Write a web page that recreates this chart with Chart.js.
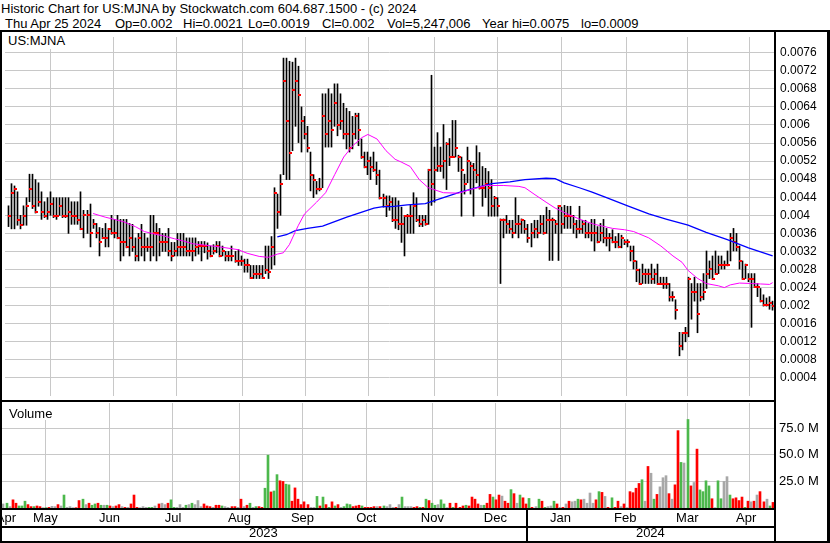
<!DOCTYPE html>
<html><head><meta charset="utf-8">
<script src="https://cdn.jsdelivr.net/npm/chart.js@4.4.1/dist/chart.umd.min.js"></script>
<style>
html,body{margin:0;padding:0;background:#fff;}
body{width:830px;height:543px;position:relative;overflow:hidden;font-family:"Liberation Sans",Arial,sans-serif;}
.t{position:absolute;font-size:13px;line-height:13px;color:#000;white-space:pre;}
.box{position:absolute;background:#fff;}
.ln{position:absolute;background:#000;}
canvas{position:absolute;left:0;}
</style></head><body>
<div class="t" style="left:1px;top:2px">Historic Chart for US:MJNA by Stockwatch.com 604.687.1500 - (c) 2024</div>
<div class="t" style="left:5px;top:17px">Thu Apr 25 2024</div>
<div class="t" style="left:115px;top:17px">Op=0.002</div>
<div class="t" style="left:183px;top:17px">Hi=0.0021</div>
<div class="t" style="left:248px;top:17px">Lo=0.0019</div>
<div class="t" style="left:322px;top:17px">Cl=0.002</div>
<div class="t" style="left:387px;top:17px">Vol=5,247,006</div>
<div class="t" style="left:482px;top:17px">Year hi=0.0075</div>
<div class="t" style="left:581px;top:17px">lo=0.0009</div>
<canvas id="pc" width="830" height="369" style="top:32px"></canvas>
<canvas id="vc" width="830" height="142" style="top:401px"></canvas>
<div class="box" style="left:2px;top:32px;width:66px;height:17px"></div>
<div class="t" style="left:8px;top:34px">US:MJNA</div>
<div class="box" style="left:2px;top:403px;width:60px;height:17px"></div>
<div class="t" style="left:9px;top:407px">Volume</div>
<div class="ln" style="left:0;top:30px;width:830px;height:2px"></div>
<div class="ln" style="left:0;top:400px;width:776px;height:2px"></div>
<div class="ln" style="left:0;top:508px;width:776px;height:2px"></div>
<div class="ln" style="left:0;top:526px;width:776px;height:2px"></div>
<div class="ln" style="left:0;top:541px;width:830px;height:2px"></div>
<div class="ln" style="left:0;top:30px;width:2px;height:513px"></div>
<div class="ln" style="left:774px;top:30px;width:2px;height:513px"></div>
<div class="ln" style="left:827px;top:30px;width:3px;height:513px"></div>
<script>
// ---------- data ----------
const highPrice = [
0.00421,0.0047,0.00465,0.00452,0.004,0.00421,0.00439,0.00491,0.00491,0.00479,0.00472,0.00452,0.0043,0.00439,0.00452,0.00439,0.00439,0.00439,0.00439,0.00439,0.00439,0.0043,0.0043,0.0043,0.00452,0.00411,0.00411,0.00425,0.00391,0.00382,0.00373,0.00371,0.00382,0.00371,0.004,0.00391,0.004,0.00391,0.00391,0.00391,0.00382,0.0038,0.0035,0.0036,0.0038,0.0036,0.0035,0.004,0.004,0.00382,0.00371,0.0036,0.0036,0.00371,0.0034,0.0034,0.0036,0.0036,0.0036,0.0035,0.0035,0.0035,0.0035,
0.00342,0.00342,0.00342,0.00339,0.00332,0.00335,0.00342,0.00342,0.00332,0.0032,0.0032,0.00332,0.0032,0.00324,0.0031,0.00303,0.00303,0.00289,0.00289,0.00289,0.00289,0.00289,0.00332,0.00332,0.00353,0.00461,0.00447,0.0049,0.00748,0.00748,0.00741,0.00739,0.00748,0.0073,0.0064,0.00619,0.00597,0.0054,0.0049,0.00475,0.00482,0.00669,0.00669,0.0068,0.00669,0.00691,0.00691,0.00669,0.00648,0.00637,0.0063,0.00619,0.00626,0.00626,0.00569,0.0054,0.0054,0.00529,0.0054,0.00518,0.005,0.00447,0.00443,0.00443,0.00439,0.00439,
0.00432,0.00418,0.004,0.00402,0.00422,0.0045,0.00439,0.004,0.004,0.004,0.00502,0.0071,0.00551,0.00583,0.00551,0.00601,0.00561,0.0057,0.0061,0.0061,0.00533,0.00529,0.00491,0.00551,0.00518,0.00515,0.00554,0.00539,0.00508,0.00504,0.00497,0.00479,0.00442,0.00439,0.00392,0.00392,0.004,0.00389,0.00389,0.00439,0.004,0.00392,0.00389,0.0038,0.00382,0.00389,0.00389,0.004,0.004,0.00418,0.00411,0.00394,0.00389,0.00422,0.00418,0.00422,0.0042,0.0042,0.004,0.00389,0.0042,0.00389,0.00389,0.00382,
0.00391,0.00391,0.00375,0.00382,0.00391,0.00371,0.0036,0.00368,0.00353,0.0036,0.00356,0.00346,0.00346,0.00332,0.00332,0.00299,0.00281,0.00292,0.00281,0.00281,0.00292,0.00281,0.00292,0.00263,0.00263,0.00263,0.00249,0.00231,0.00213,0.00141,0.00141,0.00152,0.00263,0.00249,0.00263,0.00249,0.00249,0.00271,0.00321,0.00299,0.0031,0.00321,0.0031,0.0031,0.00299,0.00321,0.0036,0.00371,0.0036,0.00332,0.00299,0.00292,0.00271,0.00271,0.00271,0.00249,0.00238,0.00224,0.00217,0.0022,0.0021];
const lowPrice = [
0.00375,0.0037,0.0037,0.00378,0.0037,0.00378,0.00378,0.0043,0.00415,0.00405,0.0042,0.00391,0.00395,0.00391,0.004,0.00395,0.00391,0.004,0.00395,0.00395,0.0036,0.0038,0.0038,0.0038,0.00368,0.0035,0.0036,0.0033,0.00371,0.0035,0.0031,0.00348,0.0033,0.0033,0.00358,0.0035,0.00348,0.00299,0.0031,0.00328,0.0031,0.0032,0.00299,0.00299,0.0031,0.00299,0.0032,0.00299,0.0031,0.00299,0.0031,0.0032,0.0032,0.0031,0.00299,0.0031,0.0031,0.0031,0.0031,0.0031,0.0031,0.00299,0.0031,
0.00314,0.00299,0.00317,0.00303,0.00308,0.00314,0.00317,0.00308,0.0031,0.00299,0.00299,0.00299,0.00296,0.00289,0.00289,0.00274,0.00274,0.0026,0.0026,0.0026,0.0026,0.0026,0.00271,0.0026,0.00281,0.0029,0.00371,0.004,0.0049,0.00479,0.00479,0.00543,0.00597,0.00561,0.0054,0.00569,0.0054,0.00454,0.00439,0.00447,0.00454,0.00461,0.00551,0.00551,0.00551,0.00597,0.00576,0.0059,0.00569,0.00547,0.0054,0.00547,0.00569,0.00554,0.00526,0.00505,0.0049,0.00479,0.00497,0.00468,0.00436,0.00418,0.00397,0.00411,0.00386,0.00371,
0.00368,0.0034,0.0031,0.0036,0.0036,0.0036,0.00386,0.00375,0.00375,0.00378,0.0038,0.00422,0.00429,0.00497,0.00497,0.00482,0.00457,0.0051,0.00529,0.00529,0.00497,0.00398,0.00447,0.00472,0.00447,0.00398,0.00472,0.00458,0.0042,0.00439,0.00398,0.00398,0.00398,0.00398,0.00249,0.0035,0.0036,0.0036,0.0035,0.0036,0.0035,0.0036,0.0036,0.0034,0.0033,0.0035,0.0035,0.0036,0.00358,0.0036,0.003,0.003,0.0036,0.003,0.0036,0.00371,0.00371,0.00371,0.0036,0.0035,0.0036,0.0036,0.0035,0.0035,
0.00343,0.00321,0.00339,0.00343,0.00339,0.00332,0.00321,0.00339,0.00328,0.00328,0.00328,0.00335,0.0033,0.00299,0.00281,0.00253,0.00247,0.00249,0.00249,0.00249,0.00249,0.00249,0.00247,0.00247,0.00238,0.00238,0.0021,0.0021,0.0017,0.00089,0.00102,0.0012,0.00131,0.0017,0.0021,0.0014,0.0021,0.00213,0.00238,0.0026,0.00258,0.00269,0.00271,0.00281,0.00281,0.00288,0.00299,0.00321,0.00321,0.00281,0.00258,0.0026,0.00253,0.00152,0.0024,0.0022,0.00208,0.00199,0.00199,0.00192,0.0019];
const closePrice = [
0.00398,0.0045,0.00459,0.00389,0.00378,0.00398,0.0042,0.00459,0.0042,0.00408,0.00429,0.00408,0.00398,0.00408,0.00425,0.00398,0.00398,0.0042,0.00398,0.00398,0.00408,0.00398,0.00398,0.00389,0.0037,0.004,0.004,0.0036,0.0038,0.0036,0.0034,0.0035,0.0035,0.0037,0.0036,0.0036,0.0035,0.0034,0.0034,0.0033,0.0035,0.0033,0.0031,0.0035,0.0033,0.0033,0.0033,0.0033,0.0036,0.0036,0.0034,0.0034,0.0034,0.0032,0.0031,0.0032,0.0033,0.0033,0.0033,0.0032,0.0032,0.0032,0.0033,
0.00332,0.00332,0.00332,0.0032,0.0031,0.0032,0.00332,0.0031,0.0032,0.0031,0.0031,0.0031,0.00299,0.00299,0.00299,0.0029,0.0029,0.00261,0.00269,0.00269,0.00269,0.00261,0.00279,0.00274,0.0033,0.0045,0.00408,0.00469,0.00698,0.00609,0.00538,0.00678,0.00698,0.00667,0.00609,0.00579,0.00549,0.0049,0.00479,0.00459,0.00459,0.00619,0.00579,0.00609,0.00589,0.00648,0.00599,0.00609,0.00579,0.00579,0.00549,0.00579,0.00619,0.00589,0.00529,0.00508,0.0052,0.00508,0.005,0.0049,0.00439,0.00439,0.0042,0.00429,0.00389,0.00389,
0.0038,0.0038,0.00398,0.00398,0.00398,0.0042,0.00389,0.0038,0.00389,0.0038,0.005,0.00469,0.005,0.00509,0.00509,0.0052,0.00558,0.0053,0.0053,0.00548,0.0053,0.005,0.00469,0.0052,0.00509,0.005,0.00489,0.0046,0.0046,0.00469,0.0046,0.0042,0.00439,0.0042,0.00389,0.00389,0.0038,0.0037,0.0036,0.0038,0.0038,0.00389,0.0037,0.0035,0.0036,0.0037,0.0036,0.0038,0.0036,0.00389,0.00389,0.00389,0.0038,0.0042,0.0038,0.00398,0.00398,0.00398,0.0038,0.0037,0.0037,0.0038,0.0036,0.0036,
0.0036,0.0036,0.0034,0.0036,0.0035,0.0035,0.0035,0.0034,0.0034,0.0033,0.0035,0.0034,0.0034,0.0032,0.00299,0.0028,0.00249,0.00269,0.00269,0.00269,0.0026,0.00269,0.00249,0.00249,0.00249,0.00249,0.0022,0.0022,0.0019,0.00111,0.0014,0.0014,0.0026,0.0023,0.0023,0.00181,0.0022,0.0023,0.00271,0.00281,0.0026,0.00271,0.0029,0.0029,0.0029,0.0029,0.0035,0.0034,0.0033,0.00299,0.0026,0.0029,0.0026,0.0026,0.00241,0.00241,0.0021,0.00201,0.00201,0.00206,0.002];
// volume in millions of shares, and direction (1 up = green, -1 down = red, 0 unchanged = grey)
const volumeM = [
3.8,4.5,1.3,7.7,4.5,1.9,1.9,6.4,3.2,1.3, 1.3,1.9,1.3,0.3,0.3,0.6,1.6,1.3,3.2,1.9, 12.2,0.6,1.3,0.3,0.3,7.0,8.3,3.2,4.5,2.6,
3.8,4.5,2.6,2.6,2.6,1.9,1.3,1.9,3.2,1.3, 0.6,0.6,3.8,12.2,0.6,0.3,1.3,0.6,0.6,0.6, 1.9,3.8,4.5,3.2,4.5,7.7,0.6,0.6,3.2,0.6,
2.6,3.2,4.5,3.2,7.0,1.3,3.8,1.9,1.3,0.6, 2.6,2.6,1.9,1.3,0.6,1.3,1.3,0.6,8.3,1.3, 2.6,4.5,0.6,1.3,1.3,0.6,18.6,49.7,15.1,16.0,
31.4,25.6,25.0,22.4,21.8,6.4,18.9,8.3,3.2,5.8, 3.2,0.6,0.6,10.9,1.9,10.3,3.2,0.6,5.8,1.9, 3.2,0.6,1.3,3.8,3.2,1.3,1.9,2.6,1.9,0.6,
0.6,0.6,1.3,1.3,1.3,1.9,1.3,3.2,0.6,0.6, 3.2,10.3,1.3,1.3,1.3,0.6,1.3,
0.6,0.6,8.3,7.0,4.5,2.6,3.2,7.7,3.8,0.3, 4.5,0.6,4.5,0.6,1.9,2.6,1.9,10.3,8.3,3.8, 2.6,2.6,4.5,12.8,10.3,7.7,12.2,11.2,6.4,4.5,
17.3,13.5,4.5,12.2,9.6,3.8,9.0,0.6,1.3,8.3, 6.4,0.6,1.3,1.9,6.4,3.8,0.6,0.6,3.8,6.4, 5.8,6.4,8.3,7.7,8.3,4.5,14.1,4.5,7.7,15.4,
14.7,10.9,0.6,9.6,0.6,6.4,1.3,3.8,0.3,15.4, 14.4,18.6,23.1,26.6,6.4,39.1,32.7,8.3,12.8,19.9, 28.5,30.4,13.5,8.3,21.8,72.8,42.9,42.3,83.3,20.8,
24.0,55.4,17.0,15.4,25.6,20.8,8.7,0.3,25.6,8.7, 25.0,29.5,12.2,8.7,9.6,7.0,10.3,0.6,6.4,5.8, 6.4,12.2,15.4,5.8,8.3,1.9,5.247];
const volumeDir = [
0,1,0,-1,-1,1,1,1,-1,-1, 1,-1,-1,0,1,-1,0,0,-1,0, 1,0,0,0,-1,-1,1,0,-1,1,
1,-1,1,0,1,-1,0,-1,-1,0, -1,0,-1,-1,-1,0,0,0,1,1, 0,-1,0,0,-1,1,1,0,0,0,
1,0,1,0,0,0,-1,-1,-1,0, -1,-1,1,0,0,-1,-1,0,-1,0, -1,1,0,1,-1,-1,1,1,-1,1,
1,-1,-1,1,1,-1,-1,-1,-1,-1, -1,0,0,1,-1,1,-1,1,-1,1, -1,0,1,1,1,-1,-1,-1,1,-1,
-1,-1,-1,0,-1,1,0,0,0,-1, 0,1,0,0,0,-1,-1,
1,-1,1,-1,1,1,0,1,1,0, -1,1,-1,-1,-1,1,-1,-1,-1,-1, 0,1,-1,-1,1,-1,-1,0,-1,-1,
1,-1,0,1,-1,-1,1,-1,0,1, -1,1,0,0,1,-1,0,-1,0,-1, 0,0,1,-1,0,0,0,0,-1,1,
-1,0,-1,1,-1,-1,0,-1,0,-1, -1,-1,-1,1,0,-1,0,1,-1,0, 0,0,-1,0,-1,-1,1,0,1,-1,
0,-1,1,1,1,1,-1,0,1,1, 0,0,1,-1,-1,-1,-1,1,-1,0, -1,0,-1,-1,0,1,-1];
// moving averages (trading-day index, value)
const maFastDay = [28,32,35,38,42,45,48,51,55,58,61,65,70,73,76,79,83,86,89,91,93,95,96,98,102,105,108,111,114,117,119,122,125,128,130,133,136,139,144,149,153,158,164,169,171,174,178,181,185,190,194,200,204,207,212,216,220,223,225,228,231,235,237,239,242,246,249,252,253];
const maFastVal = [0.00404,0.00396,0.00391,0.00386,0.00375,0.00364,0.00359,0.00355,0.00348,0.00343,0.00337,0.00334,0.0033,0.00327,0.00324,0.00316,0.00309,0.00307,0.00314,0.00317,0.00335,0.00364,0.00378,0.00403,0.00429,0.0045,0.0049,0.00529,0.00554,0.00572,0.00579,0.00569,0.00543,0.00524,0.00518,0.00508,0.00479,0.00461,0.0045,0.00449,0.00457,0.00466,0.00466,0.00464,0.00461,0.00447,0.00429,0.00416,0.00403,0.00389,0.0038,0.00371,0.00368,0.00364,0.0035,0.00332,0.0031,0.00296,0.00278,0.00261,0.00249,0.00244,0.0024,0.00246,0.0025,0.00249,0.00248,0.00247,0.00251];
const maSlowDay = [89,92,95,99,104,108,112,117,121,124,127,132,138,144,149,155,160,166,171,178,181,184,189,193,198,205,212,218,225,231,238,245,249,253];
const maSlowVal = [0.00352,0.00357,0.00366,0.00371,0.00376,0.00386,0.00396,0.00407,0.00416,0.00419,0.00419,0.00423,0.00426,0.00439,0.0045,0.00461,0.0047,0.00474,0.00479,0.00482,0.00481,0.00472,0.00461,0.00452,0.00439,0.00421,0.00403,0.00391,0.00378,0.00362,0.00346,0.00328,0.00319,0.0031];
// axes
const priceTicks = [0.0004,0.0008,0.0012,0.0016,0.002,0.0024,0.0028,0.0032,0.0036,0.004,0.0044,0.0048,0.0052,0.0056,0.006,0.0064,0.0068,0.0072,0.0076];
const priceTickLabels = ['0.0004','0.0008','0.0012','0.0016','0.002','0.0024','0.0028','0.0032','0.0036','0.004','0.0044','0.0048','0.0052','0.0056','0.006','0.0064','0.0068','0.0072','0.0076'];
const volTicks = [25,50,75];
const volTickLabels = ['25.0 M','50.0 M','75.0 M'];
const monthStarts = [2.7,24.84,44.9,66.61,88.65,108.06,130.66,151.48,172.11,194.34,214.74,235.13];
const monthLabels = ['Apr','May','Jun','Jul','Aug','Sep','Oct','Nov','Dec','Jan','Feb','Mar','Apr'];
const yearStart2024 = 172.11;
const yearLabels = ['2023','2024'];
const DAY_MIN = -1.15, DAY_MAX = 253.45;
const PRICE_MAX = 0.007947, VOL_MAX = 98.8;

// ---------- chart ----------
const FONT = '"Liberation Sans", Arial, sans-serif';
Chart.defaults.font.family = FONT;
Chart.defaults.color = '#000';
const GRID = '#c8c8c8';
const UP = '#4cb84c', DOWN = '#ff0000', FLAT = '#a8a8a8';

const bounds = [DAY_MIN, ...monthStarts, DAY_MAX];
const monthMids = monthLabels.map((_, k) => (bounds[k] + bounds[k + 1]) / 2);
const yearMids = [(DAY_MIN + yearStart2024) / 2, (yearStart2024 + DAY_MAX) / 2];

const noPad = s => { s.paddingLeft = 0; s.paddingRight = 0; s.paddingTop = 0; s.paddingBottom = 0; };
const setTicks = arr => s => { s.ticks = arr.map(v => ({ value: v })); };

function monthGridAxis() {
  return {
    type: 'linear', min: DAY_MIN, max: DAY_MAX, offset: false, bounds: 'data', weight: 0,
    afterBuildTicks: setTicks(monthStarts),
    ticks: { display: false },
    grid: { color: GRID, lineWidth: 1, drawTicks: false },
    border: { display: false },
    afterFit: s => { s.height = 0; noPad(s); }
  };
}

// pixel snapping so 1px / 2px marks render crisp (positions still come from the scales)
const pixelSnap = {
  id: 'pixelSnap',
  afterDatasetsUpdate(chart) {
    chart.data.datasets.forEach((ds, di) => {
      if (!ds.snapX) return;
      chart.getDatasetMeta(di).data.forEach(el => {
        el.x = ds.snapX === 'half' ? Math.floor(el.x) + 0.5 : Math.round(el.x);
        if (ds.snapY) el.y = Math.round(el.y);
      });
    });
  }
};

const closeMark = document.createElement('canvas');
closeMark.width = 7; closeMark.height = 2;
(function () { const c = closeMark.getContext('2d'); c.fillStyle = '#ff0000'; c.fillRect(3, 0, 3, 2); })();

const days = closePrice.map((_, i) => i);

new Chart(document.getElementById('pc'), {
  type: 'bar',
  data: {
    datasets: [
      { type: 'line', data: maFastDay.map((d, k) => ({ x: d, y: maFastVal[k] })), borderColor: '#ff00ff', borderWidth: 1, pointRadius: 0, tension: 0, order: 0 },
      { type: 'line', data: maSlowDay.map((d, k) => ({ x: d, y: maSlowVal[k] })), borderColor: '#0000ff', borderWidth: 1.3, pointRadius: 0, tension: 0, order: 0 },
      { type: 'line', showLine: false, data: days.map(i => ({ x: i, y: closePrice[i] })), pointStyle: closeMark, pointRadius: 2, order: 1, snapX: 'half', snapY: true },
      { type: 'bar', data: days.map(i => ({ x: i, y: [lowPrice[i], highPrice[i]] })), backgroundColor: '#000', barThickness: 1, order: 2, snapX: 'half' }
    ]
  },
  options: {
    responsive: false, animation: false, devicePixelRatio: 1,
    layout: { padding: 0 },
    plugins: { legend: { display: false }, tooltip: { enabled: false } },
    scales: {
      x: monthGridAxis(),
      y: {
        position: 'right', min: 0, max: PRICE_MAX, bounds: 'data',
        afterBuildTicks: setTicks(priceTicks),
        ticks: { callback: (v, i) => priceTickLabels[i], font: { size: 12 }, color: '#000', padding: 6 },
        grid: { color: GRID, lineWidth: 1, drawTicks: false },
        border: { display: false },
        afterFit: s => { s.width = 56; noPad(s); }
      }
    }
  },
  plugins: [pixelSnap]
});

const yearSeparator = {
  id: 'yearSeparator',
  afterDraw(chart) {
    const ctx = chart.ctx, x = chart.scales.x.getPixelForValue(yearStart2024);
    ctx.save(); ctx.fillStyle = '#000';
    ctx.fillRect(Math.round(x) - 1, chart.chartArea.bottom, 2, chart.height - chart.chartArea.bottom);
    ctx.restore();
  }
};

new Chart(document.getElementById('vc'), {
  type: 'bar',
  data: {
    datasets: [{
      data: days.map(i => ({ x: i, y: volumeM[i] })),
      backgroundColor: volumeDir.map(d => d > 0 ? UP : d < 0 ? DOWN : FLAT),
      barThickness: 2,
      snapX: 'int'
    }]
  },
  options: {
    responsive: false, animation: false, devicePixelRatio: 1,
    layout: { padding: { top: 2, left: 0, right: 0, bottom: 0 } },
    plugins: { legend: { display: false }, tooltip: { enabled: false } },
    scales: {
      x: monthGridAxis(),
      xm: {
        type: 'linear', position: 'bottom', min: DAY_MIN, max: DAY_MAX, offset: false, bounds: 'data', weight: 1,
        afterBuildTicks: setTicks(monthMids),
        ticks: { callback: (v, i) => monthLabels[i], font: { size: 13 }, color: '#000', padding: 3, maxRotation: 0, autoSkip: false },
        grid: { display: false, drawTicks: false }, border: { display: false },
        afterFit: s => { s.height = 18; noPad(s); }
      },
      xy: {
        type: 'linear', position: 'bottom', min: DAY_MIN, max: DAY_MAX, offset: false, bounds: 'data', weight: 2,
        afterBuildTicks: setTicks(yearMids),
        ticks: { callback: (v, i) => yearLabels[i], font: { size: 13 }, color: '#000', padding: 0, maxRotation: 0, autoSkip: false },
        grid: { display: false, drawTicks: false }, border: { display: false },
        afterFit: s => { s.height = 17; noPad(s); }
      },
      y: {
        position: 'right', min: 0, max: VOL_MAX, bounds: 'data',
        afterBuildTicks: setTicks(volTicks),
        ticks: { callback: (v, i) => volTickLabels[i], font: { size: 13 }, color: '#000', padding: 5 },
        grid: { color: GRID, lineWidth: 1, drawTicks: false },
        border: { display: false },
        afterFit: s => { s.width = 56; noPad(s); }
      }
    }
  },
  plugins: [yearSeparator, pixelSnap]
});
</script>
</body></html>
